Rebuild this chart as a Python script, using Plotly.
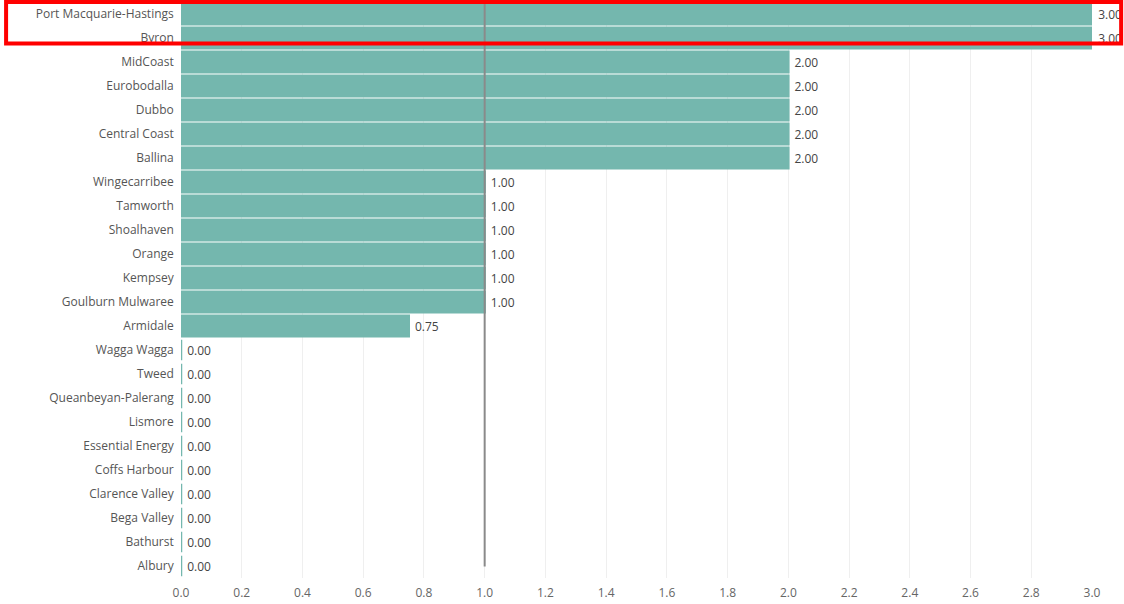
import plotly.graph_objects as go

categories = ["Port Macquarie-Hastings", "Byron", "MidCoast", "Eurobodalla", "Dubbo",
              "Central Coast", "Ballina", "Wingecarribee", "Tamworth", "Shoalhaven",
              "Orange", "Kempsey", "Goulburn Mulwaree", "Armidale", "Wagga Wagga",
              "Tweed", "Queanbeyan-Palerang", "Lismore", "Essential Energy",
              "Coffs Harbour", "Clarence Valley", "Bega Valley", "Bathurst", "Albury"]
values = [3, 3, 2, 2, 2, 2, 2, 1, 1, 1, 1, 1, 1, 0.75, 0, 0, 0, 0, 0, 0, 0, 0, 0, 0]
tick_vals = [round(i * 0.2, 1) for i in range(16)]
tick_text = [f"{v:.1f}" for v in tick_vals]
ref_value = 1.0

teal = "#74B7AE"

fig = go.Figure()
fig.add_trace(go.Bar(
    y=categories, x=values, orientation="h",
    marker=dict(color=teal, line=dict(color=teal, width=2.5)),
    text=[f" {v:.2f}" for v in values], textposition="outside",
    textfont=dict(family="Open Sans", size=12, color="#444444"),
    cliponaxis=False,
))

fig.add_shape(type="line", xref="x", yref="paper", x0=ref_value, x1=ref_value,
              y0=0.02, y1=1, line=dict(color="#8a8a8a", width=2), layer="above")

# red highlight box around top two rows
fig.add_shape(type="rect", xref="paper", yref="paper",
              x0=-0.192, x1=1.032, y0=0.928, y1=1.0,
              line=dict(color="#FF0000", width=4), layer="above")

fig.update_layout(
    width=1124, height=604,
    margin=dict(l=181, r=32, t=2, b=26),
    plot_bgcolor="white", paper_bgcolor="white",
    bargap=0.15, showlegend=False,
    font=dict(family="Open Sans", size=12, color="#555555"),
    xaxis=dict(range=[0, 3.0], tickvals=tick_vals, ticktext=tick_text,
               showgrid=True, gridcolor="#EFEFEF", gridwidth=1, zeroline=False,
               tickfont=dict(size=12, color="#666666"), automargin=False,
               ticks="outside", ticklen=4, tickcolor="rgba(0,0,0,0)", fixedrange=True),
    yaxis=dict(categoryorder="array", categoryarray=categories[::-1],
               tickfont=dict(size=12, color="#555555"), ticks="", ticklen=0,
               showgrid=False, zeroline=False),
)
fig.update_yaxes(ticksuffix="  ")

fig.write_html("out.html")
